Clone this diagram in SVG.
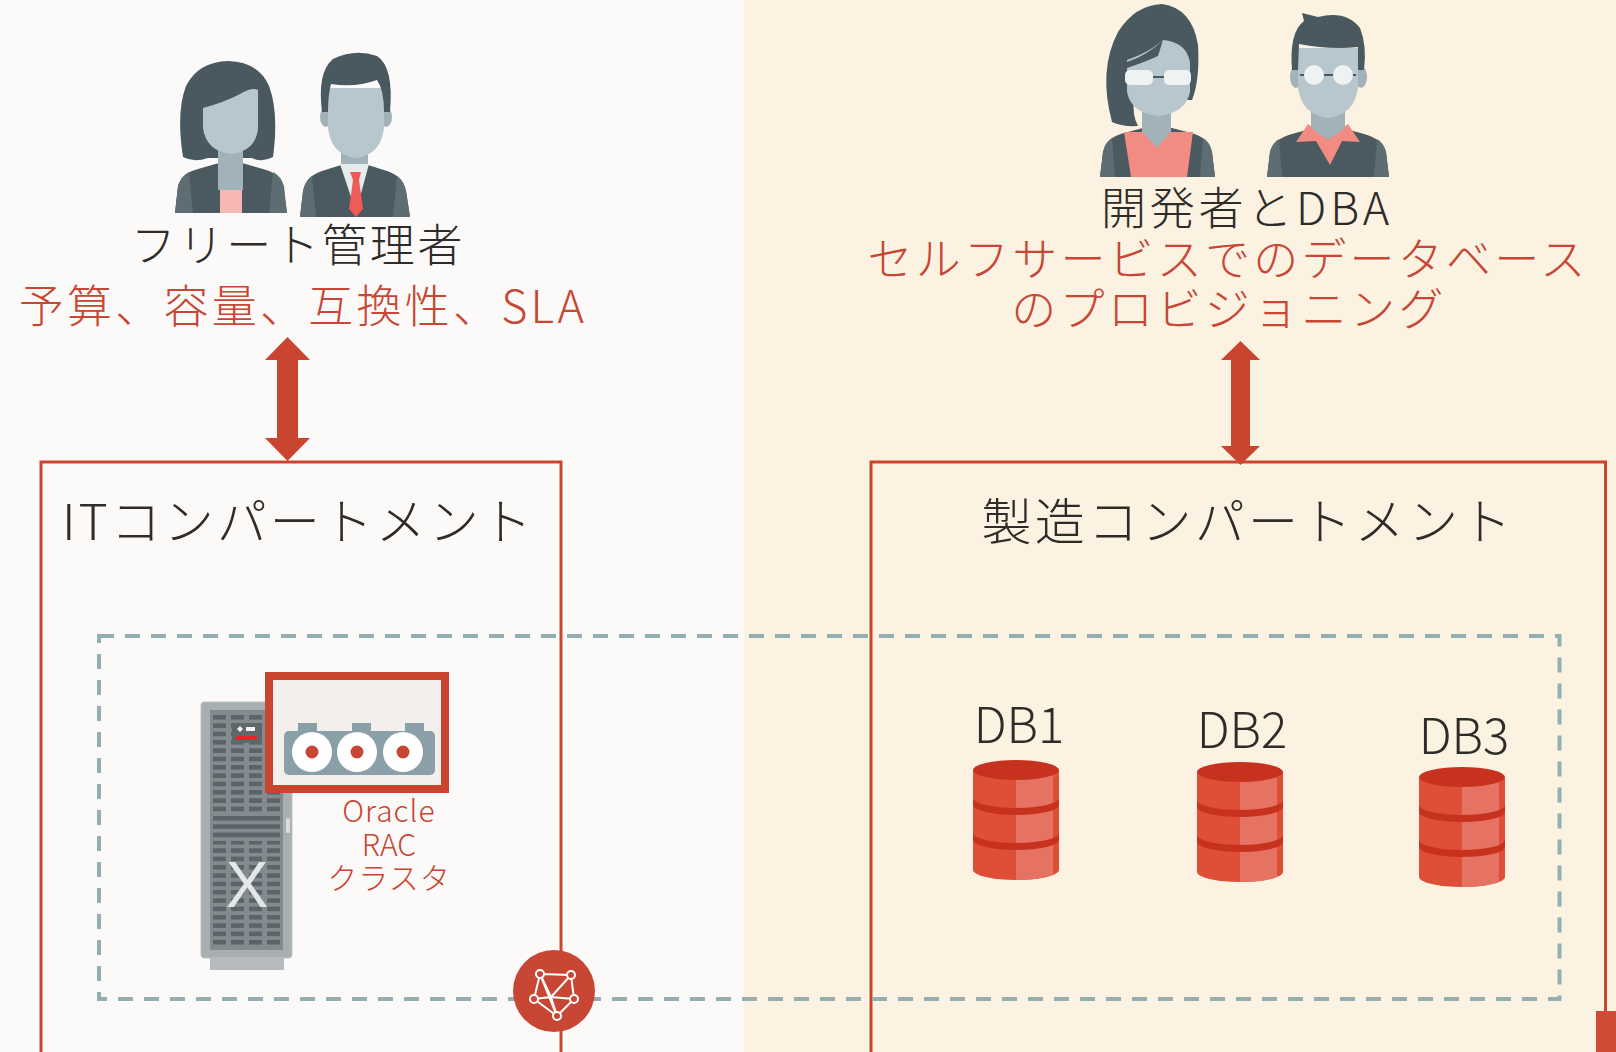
<svg xmlns="http://www.w3.org/2000/svg" width="1616" height="1052" viewBox="0 0 1616 1052">
  <style>
    .jp { font-family: "Noto Sans CJK JP", "Noto Sans", sans-serif; font-weight: 300; }
    .dark { fill: #2E2B29; }
    .red { fill: #C74634; }
    .box { fill: none; stroke: #C9452F; stroke-width: 3; }
    .hair { fill: #4A5960; }
    .suit { fill: #4B5960; }
    .suitside { fill: #5E6C73; }
    .skin { fill: #B8C7CE; }
    .neck { fill: #A2B2B9; }
    .pink { fill: #F28B82; }
    .lens { fill: #EEF2F3; }
    .cyl-dark { fill: #DF4F37; }
    .cyl-light { fill: #E67263; }
    .cyl-top { fill: #C7321F; }
  </style>
  <defs>
    <pattern id="slots" patternUnits="userSpaceOnUse" x="213" y="715" width="18" height="8.33">
      <rect x="0" y="0" width="13" height="4.6" fill="#5B6468"/>
    </pattern>
    <!-- database cylinder, origin at top-left of body -->
    <g id="cyl">
      <path class="cyl-dark" d="M0,10 L0,110 A43,10 0 0 0 86,110 L86,10 Z"/>
      <path class="cyl-light" d="M43,10 L43,120 A43,10 0 0 0 80,115 L80,10 Z"/>
      <path class="cyl-top" d="M0,38 A43,10 0 0 0 86,38 L86,45 A43,10 0 0 1 0,45 Z"/>
      <path class="cyl-top" d="M0,73 A43,10 0 0 0 86,73 L86,80 A43,10 0 0 1 0,80 Z"/>
      <ellipse class="cyl-top" cx="43" cy="10" rx="43" ry="10"/>
    </g>
  </defs>

  <!-- backgrounds -->
  <rect x="0" y="0" width="744" height="1052" fill="#FCFAF8"/>
  <rect x="744" y="0" width="872" height="1052" fill="#FBF2E1"/>

  <!-- fleet administrators -->
  <g id="fleet-admins">
    <!-- woman -->
    <path class="hair" d="M183,157 Q176,112 186,86 Q198,62 228,61 Q259,62 269,86 Q279,112 273,157 Q262,163 252,158 L208,158 Q194,163 183,157 Z"/>
    <rect class="neck" x="218" y="145" width="25" height="30"/>
    <path class="suit" d="M175,213 L178,186 Q182,173 198,169 L219,163 L242,163 L263,169 Q279,173 283,186 L287,213 Z"/>
    <path class="suitside" d="M175,213 L178,186 Q181,176 189,172 L193,213 Z M287,213 L284,186 Q281,176 273,172 L269,213 Z"/>
    <path class="neck" d="M218,163 L243,163 L243,190 L218,190 Z"/>
    <rect x="220" y="190" width="22" height="23" fill="#F5B8B5"/>
    <path class="skin" d="M203,108 Q225,102 240,94 Q252,87 258,90 L258,128 Q256,151 231,154 Q206,151 203,128 Z"/>
    <!-- man -->
    <rect class="neck" x="341" y="140" width="27" height="30"/>
    <path class="suit" d="M300,217 L303,191 Q306,176 322,171 L341,165 L368,165 L387,171 Q403,176 406,191 L410,217 Z"/>
    <path class="suitside" d="M300,217 L303,191 Q305,181 312,176 L316,217 Z M410,217 L406,191 Q404,181 397,176 L393,217 Z"/>
    <path fill="#E6EBED" d="M340,164 L369,164 L356,212 Z"/>
    <path fill="#F05A57" d="M350,172 L361,172 L359,180 L363,209 L356,217 L349,209 L353,180 Z"/>
    <ellipse class="neck" cx="326" cy="117" rx="6" ry="10"/>
    <ellipse class="neck" cx="386" cy="117" rx="6" ry="10"/>
    <path class="skin" d="M328,88 L328,128 Q331,155 356,158 Q381,155 384,128 L384,88 Z"/>
    <path class="hair" d="M322,112 Q317,72 333,59 Q355,48 377,56 Q394,67 390,112 L384,112 Q384,90 377,80 Q355,88 331,84 Q328,95 328,112 Z"/>
  </g>

  <!-- developers and DBAs -->
  <g id="devs-dbas">
    <!-- woman with ponytail -->
    <path class="hair" d="M1112,122 Q1098,70 1118,32 Q1135,5 1162,4 Q1192,8 1198,45 Q1200,80 1192,100 L1134,100 Q1132,115 1138,126 Q1122,127 1112,122 Z"/>
    <path class="suit" d="M1100,177 L1103,152 Q1107,137 1124,133 L1143,128 L1172,128 L1191,133 Q1208,137 1212,152 L1215,177 Z"/>
    <path class="suitside" d="M1100,177 L1103,152 Q1105,142 1112,138 L1115,177 Z M1215,177 L1212,152 Q1210,142 1203,138 L1200,177 Z"/>
    <path class="pink" d="M1124,132 L1193,132 L1187,177 L1131,177 Z"/>
    <path class="neck" d="M1142,110 L1171,110 L1171,132 L1157,148 L1142,132 Z"/>
    <path class="skin" d="M1127,60 Q1150,52 1163,40 Q1186,42 1190,62 L1190,92 Q1186,113 1158,116 Q1131,113 1127,92 Z"/>
    <path class="hair" d="M1127,62 Q1148,55 1163,40 L1158,56 Q1145,62 1127,68 Z"/>
    <rect class="lens" x="1125" y="70" width="28" height="15" rx="5"/>
    <rect class="lens" x="1164" y="70" width="27" height="15" rx="5"/>
    <line x1="1153" y1="77" x2="1164" y2="77" stroke="#4A5960" stroke-width="2"/>
    <!-- man with glasses -->
    <path class="suit" d="M1267,177 L1270,152 Q1275,138 1292,134 L1310,129 L1346,129 L1364,134 Q1381,138 1386,152 L1389,177 Z"/>
    <path class="suitside" d="M1267,177 L1270,152 Q1272,143 1279,139 L1282,177 Z M1389,177 L1386,152 Q1384,143 1377,139 L1374,177 Z"/>
    <path class="pink" d="M1296,142 L1308,124 L1328,140 L1348,124 L1360,142 L1342,141 L1330,165 L1316,141 Z"/>
    <path class="neck" d="M1311,108 L1345,108 L1345,128 L1328,140 L1311,128 Z"/>
    <ellipse class="neck" cx="1296" cy="77" rx="6" ry="11"/>
    <ellipse class="neck" cx="1361" cy="77" rx="6" ry="11"/>
    <path class="skin" d="M1298,48 L1298,88 Q1302,115 1328,118 Q1354,115 1358,88 L1358,48 Z"/>
    <path class="hair" d="M1292,70 Q1289,32 1304,21 L1302,13 L1318,17 Q1346,10 1360,28 Q1367,45 1364,70 L1358,70 L1358,47 Q1330,50 1299,44 L1298,70 Z"/>
    <line x1="1300" y1="75" x2="1356" y2="75" stroke="#4A5960" stroke-width="2"/>
    <circle class="lens" cx="1314" cy="75" r="10"/>
    <circle class="lens" cx="1343" cy="75" r="10"/>
  </g>

  <!-- role labels -->
  <g id="labels-top">
    <text class="jp dark" x="298" y="262" font-size="45" text-anchor="middle" letter-spacing="2.8">フリート管理者</text>
    <text class="jp red" x="303" y="323" font-size="45" text-anchor="middle" letter-spacing="3.25">予算、容量、互換性、SLA</text>
    <text class="jp dark" x="1247" y="225" font-size="45" text-anchor="middle" letter-spacing="3.8">開発者とDBA</text>
    <text class="jp red" x="1228" y="276" font-size="45" text-anchor="middle" letter-spacing="3.2">セルフサービスでのデータベース</text>
    <text class="jp red" x="1229" y="326" font-size="45" text-anchor="middle" letter-spacing="3.4">のプロビジョニング</text>
  </g>

  <!-- compartment frames -->
  <g id="it-compartment">
    <rect class="box" x="41" y="462" width="520" height="640"/>
    <text class="jp dark" x="62" y="540" font-size="50" letter-spacing="3">ITコンパートメント</text>
  </g>
  <g id="mfg-compartment">
    <rect class="box" x="871" y="462" width="734.5" height="640"/>
    <text class="jp dark" x="1248" y="540" font-size="50" text-anchor="middle" letter-spacing="3.3">製造コンパートメント</text>
  </g>
  <rect x="1596" y="1011" width="20" height="41" fill="#D04A36"/>

  <!-- shared infrastructure boundary -->
  <g id="infra-boundary">
    <rect x="99" y="636" width="1460.5" height="363" fill="none" stroke="#93AFB1" stroke-width="4" stroke-dasharray="15 11"/>
  </g>

  <!-- Exadata rack -->
  <g id="exadata">
    <rect x="210" y="955" width="74" height="15" fill="#B6BABC"/>
    <rect x="201" y="702" width="91" height="256" rx="3" fill="#A9AEB1" stroke="#BFC3C5" stroke-width="1"/>
    <rect x="210" y="710" width="73" height="240" fill="#838B8F"/>
    <rect x="213" y="715" width="67" height="100" fill="url(#slots)"/>
    <rect x="213" y="816" width="67" height="4.6" fill="#5B6468"/>
    <rect x="213" y="824.3" width="67" height="4.6" fill="#5B6468"/>
    <rect x="213" y="832.6" width="67" height="4.6" fill="#5B6468"/>
    <rect x="213" y="840.9" width="67" height="107" fill="url(#slots)"/>
    <rect x="232" y="723" width="30" height="20" fill="#5F676B"/>
    <path d="M240,726 L243,729 L240,732 L237,729 Z" fill="#F2F2F2"/>
    <rect x="246" y="727" width="9" height="4" fill="#F2F2F2"/>
    <rect x="236" y="736" width="21" height="4" fill="#E8232A"/>
    <rect x="286" y="818" width="4" height="15" rx="1.5" fill="#D9DCDD"/>
    <text x="247" y="907" font-family="Liberation Sans, sans-serif" font-size="64" fill="#E4E7E8" text-anchor="middle">X</text>
  </g>

  <!-- RAC cluster -->
  <g id="rac-cluster">
    <rect x="269" y="676" width="176" height="113" fill="#F3EFEC" stroke="#C9452F" stroke-width="8"/>
    <rect x="298" y="723" width="19" height="12" fill="#8A9FA7"/>
    <rect x="352" y="723" width="19" height="12" fill="#8A9FA7"/>
    <rect x="405" y="723" width="19" height="12" fill="#8A9FA7"/>
    <rect x="284" y="731" width="151" height="44" rx="5" fill="#8A9FA7"/>
    <circle cx="312" cy="752" r="20" fill="#FFFFFF"/>
    <circle cx="357" cy="752" r="20" fill="#FFFFFF"/>
    <circle cx="403" cy="752" r="20" fill="#FFFFFF"/>
    <circle cx="312" cy="752" r="6.5" fill="#C74634"/>
    <circle cx="357" cy="752" r="6.5" fill="#C74634"/>
    <circle cx="403" cy="752" r="6.5" fill="#C74634"/>
    <text class="jp red" x="389" y="822" font-size="30" text-anchor="middle" letter-spacing="1">Oracle</text>
    <text class="jp red" x="389" y="856" font-size="30" text-anchor="middle">RAC</text>
    <text class="jp red" x="389" y="889" font-size="30" text-anchor="middle" letter-spacing="1">クラスタ</text>
  </g>

  <!-- databases -->
  <g id="db1">
    <text class="jp dark" x="1019" y="743" font-size="49" text-anchor="middle">DB1</text>
    <use href="#cyl" x="973" y="760"/>
  </g>
  <g id="db2">
    <text class="jp dark" x="1242" y="748" font-size="49" text-anchor="middle">DB2</text>
    <use href="#cyl" x="1197" y="762"/>
  </g>
  <g id="db3">
    <text class="jp dark" x="1464" y="754" font-size="49" text-anchor="middle">DB3</text>
    <use href="#cyl" x="1419" y="767"/>
  </g>

  <!-- network badge -->
  <g id="network">
    <circle cx="554" cy="991" r="41" fill="#C74634"/>
    <g fill="none" stroke="#FFFFFF" stroke-width="2" stroke-linejoin="round">
      <path d="M540,974 L571,975 L574,999 L557,1016 L534,999 Z"/>
      <path d="M540,974 L551,997 L574,999 M571,975 L551,997 L534,999 M551,997 L557,1016 M540,974 L557,1016"/>
    </g>
    <g fill="#C74634" stroke="#FFFFFF" stroke-width="2">
      <circle cx="540" cy="974" r="4"/>
      <circle cx="571" cy="975" r="4"/>
      <circle cx="574" cy="999" r="4"/>
      <circle cx="557" cy="1016" r="4"/>
      <circle cx="534" cy="999" r="4"/>
    </g>
  </g>

  <!-- connectors -->
  <g id="connectors" fill="#C9452F">
    <path d="M287.5,337 L310,360 L298,360 L298,438 L310,438 L287.5,461 L265,438 L277,438 L277,360 L265,360 Z"/>
    <path d="M1240.5,341 L1260,360 L1250,360 L1250,446 L1260,446 L1240.5,465 L1221,446 L1231,446 L1231,360 L1221,360 Z"/>
  </g>
</svg>
